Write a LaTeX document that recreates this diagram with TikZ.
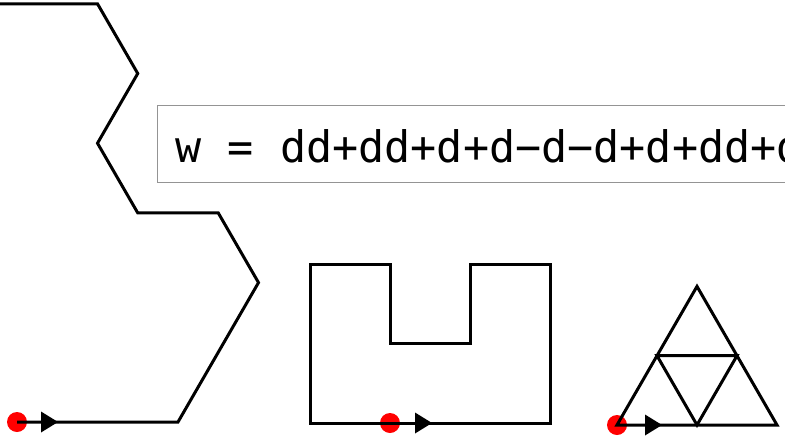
\documentclass[tikz,border=0pt]{standalone}
\usepackage{fontspec}
\newfontfamily\codefont{DejaVu Sans Mono}
\begin{document}
\begin{tikzpicture}[x=1pt,y=-1pt,
  turtle/.style={line width=3pt, line join=miter, draw=black},
  startdot/.style={fill=red},
  headmark/.style={fill=black},
  codebox/.style={draw=black!42, line width=1.4pt, fill=white, inner sep=0pt, minimum height=77pt, text width=700pt, anchor=north west}]
\useasboundingbox (0,0) rectangle (785,437);
\clip (0,0) rectangle (785,437);
% ---- hexagonal turtle path ----
\fill[startdot] (17,422) circle (10);
\draw[turtle] (17,422) -- (178,422) -- (258.5,282.6) -- (218.25,212.9) -- (137.75,212.9)
  -- (97.5,143.2) -- (137.75,73.5) -- (97.5,3.8) -- (-63.5,3.8) -- (-103.75,73.5);
\fill[headmark] (41,411.5) -- (58,422) -- (41,432.5) -- cycle;
% ---- text box ----
\node[codebox] (box) at (157,105) {};
\node[anchor=base west, inner sep=0pt] (code) at (175.5,162)
  {\codefont\fontsize{43.4}{50}\selectfont w = dd+dd+d+d−d−d+d+dd+d+dd};
% ---- U shape ----
\fill[startdot] (390,423) circle (10);
\draw[turtle] (390,423) -- (550,423) -- (550,264) -- (470,264) -- (470,343) -- (390,343)
  -- (390,264) -- (310,264) -- (310,423) -- cycle;
\fill[headmark] (415,412.5) -- (432,423) -- (415,433.5) -- cycle;
% ---- triangle ----
\fill[startdot] (617,425) circle (10);
\draw[turtle] (617,425) -- (777,425) -- (697,286.4) -- cycle;
\draw[turtle] (657,355.7) -- (737,355.7) -- (697,425) -- cycle;
\fill[headmark] (645,414.5) -- (662,425) -- (645,435.5) -- cycle;
\end{tikzpicture}
\end{document}
